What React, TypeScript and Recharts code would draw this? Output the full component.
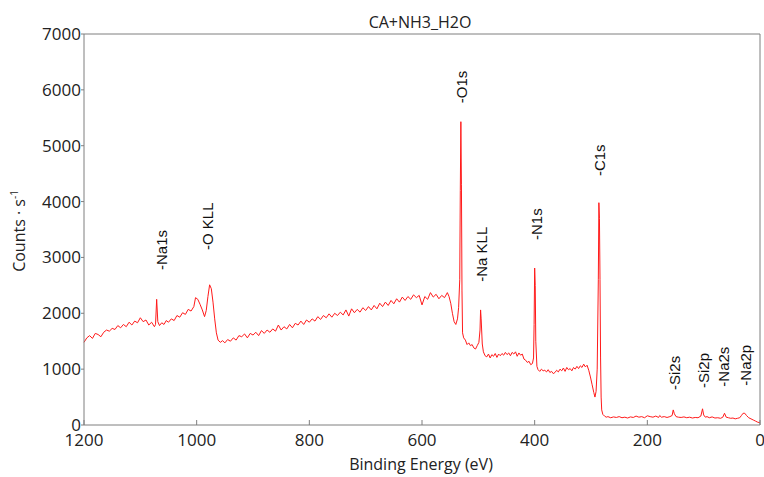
import { ComposedChart, Line, Scatter, XAxis, YAxis, Label } from 'recharts';

// survey spectrum, [binding energy (eV), counts/s]
const spectrum: [number, number][] = [
  [1200, 1480], [1195, 1560], [1190, 1600], [1185, 1550], [1180, 1640], [1175, 1620],
  [1170, 1580], [1165, 1660], [1160, 1700], [1155, 1680], [1150, 1730], [1145, 1710],
  [1140, 1780], [1135, 1740], [1130, 1800], [1125, 1760], [1120, 1840], [1115, 1790],
  [1110, 1860], [1105, 1830], [1100, 1920], [1095, 1850], [1090, 1880], [1085, 1790],
  [1080, 1840], [1075, 1760], [1073, 1800], [1071, 2250], [1069, 1850], [1066, 1780],
  [1062, 1830], [1058, 1800], [1054, 1870], [1050, 1840], [1045, 1900], [1040, 1870],
  [1035, 1960], [1030, 1930], [1025, 2010], [1020, 1980], [1015, 2070], [1010, 2040],
  [1005, 2120], [1002, 2280], [998, 2250], [994, 2160], [990, 2060], [986, 1940],
  [983, 2050], [980, 2300], [977, 2510], [974, 2440], [971, 2200], [968, 1900],
  [965, 1650], [962, 1520], [958, 1480], [954, 1510], [950, 1470], [945, 1530],
  [940, 1500], [935, 1560], [930, 1520], [925, 1600], [920, 1580], [915, 1630],
  [910, 1560], [905, 1640], [900, 1610], [895, 1660], [890, 1600], [885, 1690],
  [880, 1640], [875, 1700], [870, 1660], [865, 1720], [860, 1680], [855, 1790],
  [850, 1700], [845, 1760], [840, 1720], [835, 1800], [830, 1740], [825, 1820],
  [820, 1790], [815, 1860], [810, 1800], [805, 1880], [800, 1840], [795, 1900],
  [790, 1860], [785, 1940], [780, 1890], [775, 1960], [770, 1920], [765, 1990],
  [760, 1930], [755, 2000], [750, 1960], [745, 2020], [740, 1970], [735, 2060],
  [730, 1950], [725, 2080], [720, 2010], [715, 2070], [710, 2020], [705, 2100],
  [700, 2050], [695, 2120], [690, 2060], [685, 2140], [680, 2080], [675, 2180],
  [670, 2120], [665, 2200], [660, 2140], [655, 2230], [650, 2170], [645, 2260],
  [640, 2200], [635, 2290], [630, 2230], [625, 2300], [620, 2250], [615, 2330],
  [610, 2280], [605, 2320], [600, 2150], [595, 2300], [590, 2250], [585, 2370],
  [580, 2290], [575, 2340], [570, 2260], [565, 2320], [560, 2280], [555, 2370],
  [552, 2300], [549, 2180], [546, 2000], [543, 1850], [540, 1800], [537, 1900],
  [535, 2100], [533, 2600], [532, 4200], [531, 5430], [530, 4300], [529, 2400],
  [528, 1650], [526, 1560], [523, 1520], [520, 1440], [517, 1470], [514, 1420],
  [511, 1440], [508, 1380], [505, 1360], [502, 1420], [499, 1480], [497, 1700],
  [496, 2060], [495, 1900], [493, 1450], [491, 1310], [488, 1240], [485, 1220],
  [482, 1270], [479, 1200], [476, 1260], [473, 1230], [470, 1280], [467, 1210],
  [464, 1270], [461, 1240], [458, 1280], [455, 1250], [452, 1300], [449, 1260],
  [446, 1290], [443, 1240], [440, 1300], [437, 1270], [434, 1310], [431, 1230],
  [428, 1290], [425, 1250], [422, 1270], [419, 1180], [416, 1160], [413, 1120],
  [410, 1140], [407, 1080], [404, 1100], [402, 1200], [401, 1800], [400, 2810],
  [399, 2500], [398, 1500], [396, 1050], [394, 990], [391, 960], [388, 1000],
  [385, 970], [382, 980], [379, 950], [376, 990], [373, 940], [370, 960],
  [367, 920], [364, 940], [361, 980], [358, 950], [355, 1000], [352, 970],
  [349, 1020], [346, 960], [343, 1030], [340, 990], [337, 1010], [334, 970],
  [331, 1030], [328, 1000], [325, 1050], [322, 1010], [319, 1060], [316, 1030],
  [313, 1090], [310, 1040], [307, 1070], [304, 980], [301, 860], [298, 720],
  [295, 580], [293, 500], [291, 600], [289, 1000], [287, 2600], [286, 3980],
  [285, 3700], [284, 2600], [283, 1200], [282, 500], [281, 270], [279, 190],
  [276, 160], [273, 140], [270, 150], [265, 130], [260, 145], [255, 135],
  [250, 150], [245, 130], [240, 140], [235, 125], [230, 145], [225, 135],
  [220, 160], [215, 140], [210, 150], [205, 130], [200, 165], [195, 150],
  [190, 140], [185, 160], [180, 135], [178, 170], [175, 140], [170, 150],
  [165, 135], [160, 150], [156, 170], [154, 270], [152, 200], [149, 150],
  [145, 140], [140, 135], [135, 145], [130, 130], [125, 140], [120, 125],
  [115, 135], [110, 130], [105, 160], [102, 290], [100, 180], [97, 140],
  [94, 150], [90, 130], [85, 145], [80, 125], [75, 130], [70, 120],
  [66, 140], [63, 210], [60, 140], [56, 130], [52, 120], [48, 125],
  [44, 110], [40, 120], [36, 130], [33, 170], [30, 210], [27, 210],
  [24, 170], [20, 130], [16, 110], [12, 90], [8, 70], [4, 50], [0, 40],
];

// peak annotations: name, energy, level where the text starts
const peakNames = ['-Na1s', '-O KLL', '-O1s', '-Na KLL', '-N1s', '-C1s', '-Si2s', '-Si2p', '-Na2s', '-Na2p'];
const peakEnergy = [1063, 980, 529, 495, 396, 284, 151, 101, 65, 25];
const peakLevel = [2775, 3133, 5760, 2565, 3312, 4457, 627, 662, 686, 704];

const xTicks = [0, 200, 400, 600, 800, 1000, 1200];
const yTicks = [0, 1000, 2000, 3000, 4000, 5000, 6000, 7000];

const data = spectrum.map(([be, counts]) => ({ be, counts }));
const labels = peakNames.map((name, i) => ({ name, be: peakEnergy[i], counts: peakLevel[i] }));

const AXIS = '#7f7f7f';
const FONT = '"Open Sans", sans-serif';

const PeakText = (props: any) => {
  const { cx, cy, payload } = props;
  return (
    <text
      x={cx}
      y={cy}
      transform={`rotate(-90, ${cx}, ${cy})`}
      dominantBaseline="central"
      textAnchor="start"
      fontFamily='"Liberation Sans", Arial, sans-serif'
      fontSize={15}
      fill="#111"
    >
      {payload.name}
    </text>
  );
};

export default function App() {
  return (
    <div style={{ position: 'absolute', left: 0, top: 0, width: 764, height: 477, background: '#fff' }}>
      <ComposedChart width={764} height={477} data={data} margin={{ top: 33, right: 3, bottom: 22, left: 0 }}>
        <XAxis
          xAxisId="bottom"
          type="number"
          dataKey="be"
          domain={[0, 1200]}
          reversed
          ticks={xTicks}
          interval={0}
          height={30}
          stroke={AXIS}
          tickSize={-5}
          tickMargin={14}
          tick={{ fill: '#222', fontSize: 17, fontFamily: FONT }}
        >
          <Label
            content={() => (
              <text x={421} y={470} textAnchor="middle" fontFamily={FONT} fontSize={16} fill="#222">
                Binding Energy (eV)
              </text>
            )}
          />
        </XAxis>
        <XAxis
          xAxisId="top"
          orientation="top"
          type="number"
          dataKey="be"
          domain={[0, 1200]}
          reversed
          ticks={xTicks}
          interval={0}
          height={1}
          stroke={AXIS}
          tickSize={-4}
          tick={false}
        >
          <Label
            content={() => (
              <text x={420} y={28} textAnchor="middle" fontFamily={FONT} fontSize={16} fill="#222">
                CA+NH3_H2O
              </text>
            )}
          />
        </XAxis>
        <YAxis
          yAxisId="left"
          domain={[0, 7000]}
          ticks={yTicks}
          interval={0}
          width={84}
          stroke={AXIS}
          tickSize={3}
          tickMargin={0}
          tick={{ fill: '#222', fontSize: 17, fontFamily: FONT }}
        >
          <Label
            content={() => (
              <text
                x={25}
                y={231}
                transform="rotate(-90, 25, 231)"
                textAnchor="middle"
                fontFamily={FONT}
                fontSize={16}
                fill="#222"
              >
                Counts · s
                <tspan dy={-7} fontSize={10}>-1</tspan>
              </text>
            )}
          />
        </YAxis>
        <YAxis
          yAxisId="right"
          orientation="right"
          domain={[0, 7000]}
          ticks={yTicks}
          interval={0}
          width={1}
          stroke={AXIS}
          tickSize={-4}
          tick={false}
        />
        <Line
          xAxisId="bottom"
          yAxisId="left"
          dataKey="counts"
          type="linear"
          stroke="#ff1a1a"
          strokeWidth={1}
          dot={false}
          activeDot={false}
          isAnimationActive={false}
        />
        <Scatter
          xAxisId="bottom"
          yAxisId="left"
          data={labels}
          dataKey="counts"
          shape={PeakText}
          isAnimationActive={false}
        />
      </ComposedChart>
    </div>
  );
}
